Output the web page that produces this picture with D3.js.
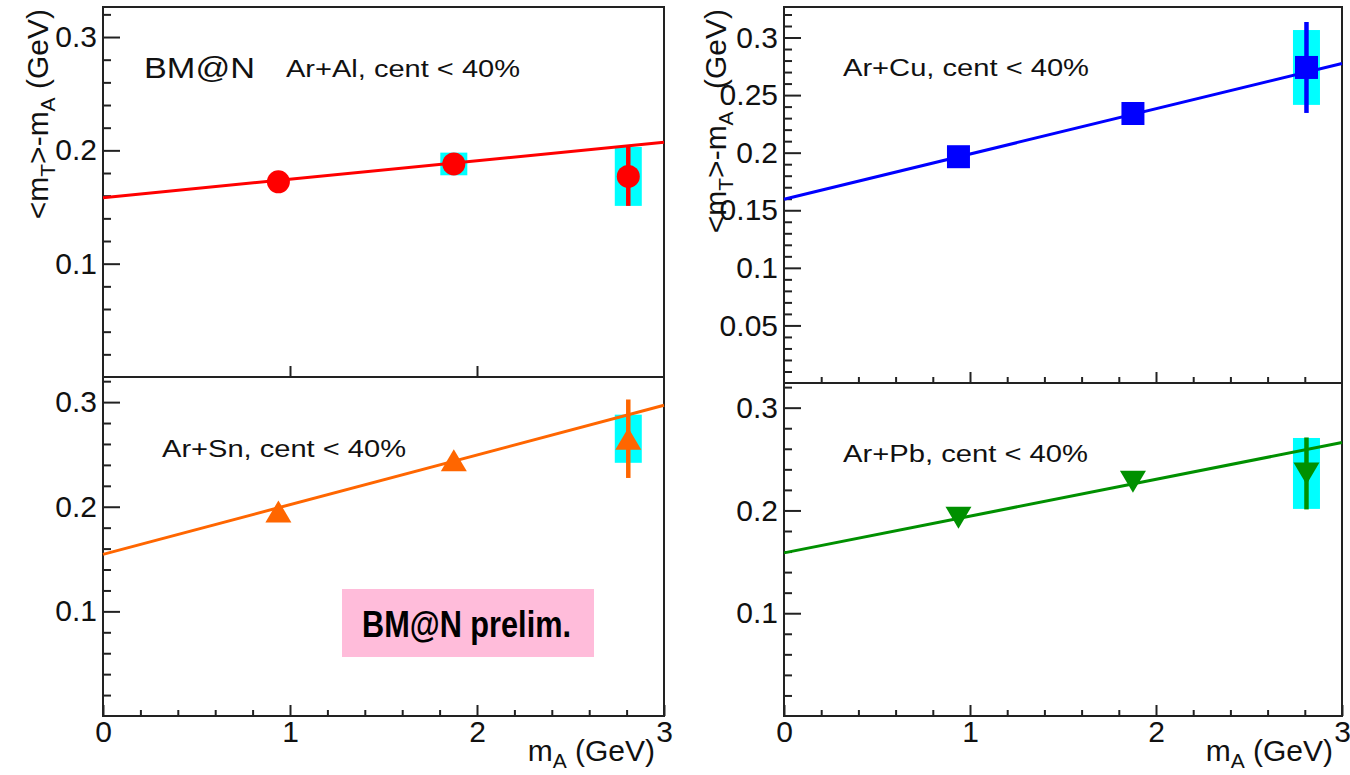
<!DOCTYPE html>
<html lang="en">
<head>
<meta charset="utf-8">
<title>mean mT - mA vs mA</title>
<style>
  body { margin: 0; background: #fff; }
  svg { display: block; font-family: "Liberation Sans", Arial, Helvetica, sans-serif; }
</style>
</head>
<body>
<script src="https://d3js.org/d3.v7.min.js"></script>
<script>
// particle masses (p, d, t) in GeV
var massA = [0.938, 1.876, 2.809];
var xMajor = [0, 1, 2, 3];
var labels = ["Ar+Al, cent < 40%", "Ar+Cu, cent < 40%", "Ar+Sn, cent < 40%", "Ar+Pb, cent < 40%"];

var meanAl = [0.1722, 0.188, 0.177], statAl = [0.008, 0.006, 0.026], sysAl = [0, 0.010, 0.026];
var meanCu = [0.1965, 0.234, 0.274], statCu = [0.005, 0.005, 0.0395], sysCu = [0, 0, 0.0325];
var meanSn = [0.1955, 0.2445, 0.265], statSn = [0.005, 0.005, 0.0375], sysSn = [0, 0, 0.023];
var meanPb = [0.193, 0.228, 0.236], statPb = [0.005, 0.005, 0.035], sysPb = [0, 0, 0.0345];

// linear fits: value at mA = 0 and mA = 3
var fitAl = [0.1582, 0.2072], fitCu = [0.1595, 0.2775], fitSn = [0.1545, 0.297], fitPb = [0.1587, 0.2661];

var svg = d3.select("body").append("svg").attr("width", 1350).attr("height", 775);

var panels = [
  {label: labels[0], mean: meanAl, stat: statAl, sys: sysAl, fit: fitAl, color: "#ff0000", marker: "circle",
   left: 103, right: 664, top: 7, bottom: 377, ymax: 0.3265, yMajor: [0.1, 0.2, 0.3], yStep: 0.02,
   xMinor: false, xLabels: false, textX: 286, textY: 77, textLen: 234, titleX: 48, titleGap: 0},
  {label: labels[1], mean: meanCu, stat: statCu, sys: sysCu, fit: fitCu, color: "#0000ff", marker: "square",
   left: 784, right: 1342, top: 7, bottom: 383, ymax: 0.3265, yMajor: [0.05, 0.1, 0.15, 0.2, 0.25, 0.3], yStep: 0.01,
   xMinor: true, xLabels: false, textX: 843, textY: 76, textLen: 246, titleX: 726, titleGap: 14},
  {label: labels[2], mean: meanSn, stat: statSn, sys: sysSn, fit: fitSn, color: "#ff6600", marker: "up",
   left: 103, right: 664, top: 377, bottom: 716, ymax: 0.324, yMajor: [0.1, 0.2, 0.3], yStep: 0.02,
   xMinor: true, xLabels: true, textX: 162, textY: 457, textLen: 244},
  {label: labels[3], mean: meanPb, stat: statPb, sys: sysPb, fit: fitPb, color: "#009000", marker: "down",
   left: 784, right: 1342, top: 383, bottom: 716, ymax: 0.324, yMajor: [0.1, 0.2, 0.3], yStep: 0.02,
   xMinor: true, xLabels: true, textX: 843, textY: 462, textLen: 245}
];

function fmt(v) { return String(+v.toFixed(2)); }

panels.forEach(function(p) {
  var x = d3.scaleLinear().domain([0, 3]).range([p.left, p.right]);
  var y = d3.scaleLinear().domain([0, p.ymax]).range([p.bottom, p.top]);
  var g = svg.append("g");

  var n = Math.floor(p.ymax / p.yStep + 1e-6);
  var yMinor = d3.range(1, n + 1).map(function(i) { return +(i * p.yStep).toFixed(3); })
    .filter(function(v) { return p.yMajor.indexOf(v) < 0; });

  // y axis: ticks inside the frame
  g.append("g").attr("transform", "translate(" + p.left + ",0)")
      .call(d3.axisLeft(y).tickValues(yMinor).tickSize(-8).tickFormat(""))
      .call(function(a) { a.select(".domain").remove(); });
  g.append("g").attr("transform", "translate(" + p.left + ",0)")
      .call(d3.axisLeft(y).tickValues(p.yMajor).tickSize(-17).tickPadding(6).tickFormat(fmt))
      .call(function(a) { a.select(".domain").remove(); })
      .selectAll("text").attr("font-size", 30).attr("font-family", "Liberation Sans, Arial, sans-serif").attr("fill", "#111");

  // x axis
  var xMinorVals = d3.range(1, 15).map(function(i) { return +(i * 0.2).toFixed(1); })
    .filter(function(v) { return xMajor.indexOf(v) < 0; });
  if (p.xMinor) {
    g.append("g").attr("transform", "translate(0," + p.bottom + ")")
        .call(d3.axisBottom(x).tickValues(xMinorVals).tickSize(-6).tickFormat(""))
        .call(function(a) { a.select(".domain").remove(); });
  }
  var xa = g.append("g").attr("transform", "translate(0," + p.bottom + ")")
      .call(d3.axisBottom(x).tickValues(p.xLabels ? xMajor : [1, 2]).tickSize(-11).tickPadding(5)
        .tickFormat(p.xLabels ? d3.format("d") : ""))
      .call(function(a) { a.select(".domain").remove(); });
  xa.selectAll("text").attr("font-size", 30).attr("font-family", "Liberation Sans, Arial, sans-serif").attr("fill", "#111");
  g.selectAll(".tick line").attr("stroke", "#222").attr("stroke-width", 2);

  // frame
  g.append("rect").attr("x", p.left).attr("y", p.top)
      .attr("width", p.right - p.left).attr("height", p.bottom - p.top)
      .attr("fill", "none").attr("stroke", "#222").attr("stroke-width", 2);

  var pts = massA.map(function(m, i) { return {m: m, v: p.mean[i], st: p.stat[i], sy: p.sys[i]}; });

  // systematic boxes
  g.selectAll(".sys").data(pts.filter(function(d) { return d.sy > 0; })).enter().append("rect")
      .attr("x", function(d) { return x(d.m) - 13.5; })
      .attr("y", function(d) { return y(d.v + d.sy); })
      .attr("width", 27)
      .attr("height", function(d) { return y(d.v - d.sy) - y(d.v + d.sy); })
      .attr("fill", "#00ffff");

  // fit line
  g.append("line")
      .attr("x1", x(0)).attr("y1", y(p.fit[0]))
      .attr("x2", x(3)).attr("y2", y(p.fit[1]))
      .attr("stroke", p.color).attr("stroke-width", 3);

  // statistical errors
  g.selectAll(".stat").data(pts).enter().append("line")
      .attr("x1", function(d) { return x(d.m); }).attr("x2", function(d) { return x(d.m); })
      .attr("y1", function(d) { return y(d.v - d.st); }).attr("y2", function(d) { return y(d.v + d.st); })
      .attr("stroke", p.color).attr("stroke-width", 4.5);

  // markers
  g.selectAll(".mk").data(pts).enter().append("path")
      .attr("d", function() {
        if (p.marker === "circle") return d3.symbol().type(d3.symbolCircle).size(Math.PI * 11.5 * 11.5)();
        if (p.marker === "square") return d3.symbol().type(d3.symbolSquare).size(23 * 23)();
        if (p.marker === "up") return "M-13,11L13,11L0,-11Z";
        return "M-13,-11L13,-11L0,11Z";
      })
      .attr("transform", function(d) { return "translate(" + x(d.m) + "," + y(d.v) + ")"; })
      .attr("fill", p.color);

  // label
  g.append("text").attr("x", p.textX).attr("y", p.textY)
      .attr("font-size", 23).attr("textLength", p.textLen).attr("lengthAdjust", "spacingAndGlyphs")
      .attr("fill", "#111").text(p.label);

  // y title on top panels, x title on bottom panels
  if (!p.xLabels) {
    var t = svg.append("text")
        .attr("transform", "translate(" + p.titleX + "," + (p.top + 2) + ") rotate(-90)")
        .attr("text-anchor", "end").attr("font-size", 30).attr("fill", "#111");
    t.append("tspan").text("<m");
    t.append("tspan").attr("font-size", 21).attr("dy", 7).text("T");
    t.append("tspan").attr("dy", -7).text(">-m");
    t.append("tspan").attr("font-size", 21).attr("dy", 7).text("A");
    t.append("tspan").attr("dy", -7).attr("dx", p.titleGap).text(" (GeV)");
  } else {
    var tx = svg.append("text").attr("x", p.right - 9).attr("y", 761)
        .attr("text-anchor", "end").attr("font-size", 30).attr("fill", "#111");
    tx.append("tspan").text("m");
    tx.append("tspan").attr("font-size", 21).attr("dy", 7).text("A");
    tx.append("tspan").attr("dy", -7).text(" (GeV)");
  }
});

// experiment tags
svg.append("text").attr("x", 144).attr("y", 78).attr("font-size", 30)
    .attr("textLength", 111).attr("lengthAdjust", "spacingAndGlyphs").attr("fill", "#111").text("BM@N");

svg.append("rect").attr("x", 342).attr("y", 589).attr("width", 252).attr("height", 68).attr("fill", "#ffbcda");
svg.append("text").attr("x", 362).attr("y", 637).attr("font-size", 36).attr("font-weight", "bold")
    .attr("font-family", "Liberation Sans Narrow, Liberation Sans, Arial, sans-serif")
    .attr("textLength", 209).attr("lengthAdjust", "spacingAndGlyphs").attr("fill", "#000").text("BM@N prelim.");
</script>
</body>
</html>
